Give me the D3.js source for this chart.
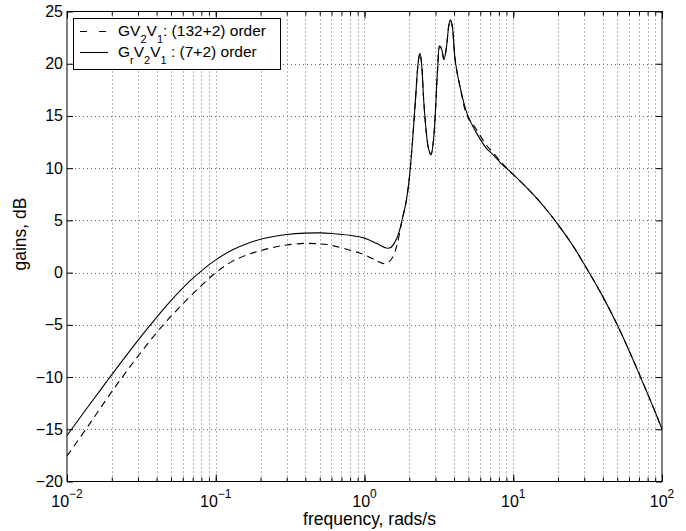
<!DOCTYPE html>
<html>
<head>
<meta charset="utf-8">
<script src="https://cdnjs.cloudflare.com/ajax/libs/d3/7.8.5/d3.min.js"></script>
<style>
  body { margin: 0; background: #fff; }
  text { font-family: "Liberation Sans", Arial, Helvetica, sans-serif; fill: #000; }
</style>
</head>
<body>
<div id="chart"></div>
<script>
// reduced model (solid) - frequency in rad/s, gain in dB
var freqSolid = [0.01, 0.014, 0.02, 0.028, 0.036, 0.05, 0.07, 0.1, 0.13, 0.17, 0.2, 0.25, 0.3, 0.4, 0.5, 0.6, 0.8, 1.0, 1.2, 1.4, 1.5, 1.6, 1.7, 1.8, 1.9, 2.0, 2.1, 2.2, 2.3, 2.36, 2.42, 2.5, 2.6, 2.7, 2.8, 2.9, 3.0, 3.1, 3.2, 3.3, 3.42, 3.55, 3.7, 3.78, 3.9, 4.0, 4.1, 4.4, 4.9, 5.6, 6.6, 7.3, 8.5, 9.5, 12, 14.4, 17, 20, 25, 30, 40, 50, 60, 70, 80, 90, 100];
var gainSolid = [-15.6, -12.75, -9.77, -7.04, -5.08, -2.68, -0.56, 1.22, 2.19, 2.89, 3.19, 3.48, 3.65, 3.78, 3.8, 3.75, 3.57, 3.3, 2.8, 2.35, 2.4, 2.9, 3.8, 5.2, 6.7, 9.0, 12.5, 16.5, 20.2, 21.0, 20.0, 16.5, 13.5, 11.8, 11.3, 12.5, 15.5, 19.5, 21.7, 21.4, 20.4, 21.5, 23.8, 24.2, 23.5, 21.5, 20.0, 17.7, 15.2, 13.5, 11.9, 11.3, 10.3, 9.7, 8.3, 7.1, 5.9, 4.6, 2.65, 0.8, -2.3, -5.0, -7.45, -9.65, -11.6, -13.35, -15.0];

// full model (dashed)
var freqDashed = [0.01, 0.014, 0.02, 0.03, 0.0444, 0.06, 0.08, 0.1, 0.13, 0.17, 0.2, 0.25, 0.3, 0.4, 0.5, 0.6, 0.8, 1.0, 1.2, 1.35, 1.45, 1.55, 1.65, 1.75, 1.8, 1.9, 2.0, 2.1, 2.2, 2.3, 2.36, 2.42, 2.5, 2.6, 2.7, 2.8, 2.9, 3.0, 3.1, 3.2, 3.3, 3.42, 3.55, 3.7, 3.78, 3.9, 4.0, 4.1, 4.4, 4.9, 5.6, 6.6, 7.3, 8.5, 9.5, 12, 14.4, 17, 20, 25, 30, 40, 50, 60, 70, 80, 90, 100];
var gainDashed = [-17.55, -14.6, -11.4, -8.0, -5.0, -3.0, -1.25, 0.0, 1.1, 1.8, 2.1, 2.45, 2.65, 2.8, 2.75, 2.6, 2.15, 1.7, 1.15, 0.85, 1.0, 1.5, 2.6, 4.3, 5.2, 6.7, 9.0, 12.5, 16.5, 20.2, 21.0, 20.0, 16.5, 13.5, 11.8, 11.3, 12.5, 15.5, 19.5, 21.7, 21.4, 20.4, 21.5, 23.8, 24.2, 23.5, 21.5, 20.0, 17.7, 15.0, 13.8, 12.2, 11.5, 10.4, 9.7, 8.3, 7.1, 5.9, 4.6, 2.65, 0.8, -2.3, -5.0, -7.45, -9.65, -11.6, -13.35, -15.0];

var yTicks = [-20, -15, -10, -5, 0, 5, 10, 15, 20, 25];
var decades = [-2, -1, 0, 1, 2];
var legendNames = [
    [["GV", 0], ["2", 1], ["V", 0], ["1", 1], [": (132+2) order", 0]],
    [["G", 0], ["r", 1], ["V", 0], ["2", 1], ["V", 0], ["1", 1], [" : (7+2) order", 0]]
];

(function() {
    var width = 686, height = 531;
    var pLeft = 67, pRight = 662, pTop = 11.5, pBottom = 481.5;

    var svg = d3.select("#chart")
        .append("svg")
        .attr("width", width)
        .attr("height", height)

    var x = d3.scaleLog().domain([0.01, 100]).range([pLeft, pRight])
    var y = d3.scaleLinear().domain([-20, 25]).range([pBottom, pTop])

    // minor + major x positions
    var xGrid = []
    decades.slice(0, 4).forEach(function(p) {
        for (var k = 1; k < 10; k++) xGrid.push(k * Math.pow(10, p))
    })
    xGrid.push(100)

    // grid
    svg.append("g").selectAll("line")
        .data(xGrid.filter(function(d) { return d > 0.01 && d < 100 }))
        .enter().append("line")
        .attr("x1", function(d) { return Math.round(x(d)) + 0.5 })
        .attr("x2", function(d) { return Math.round(x(d)) + 0.5 })
        .attr("y1", pTop).attr("y2", pBottom)
        .attr("stroke", "#666").attr("stroke-width", 1)
        .attr("stroke-dasharray", "1,3")

    svg.append("g").selectAll("line")
        .data(yTicks.filter(function(d) { return d > -20 && d < 25 }))
        .enter().append("line")
        .attr("y1", function(d) { return Math.round(y(d)) + 0.5 })
        .attr("y2", function(d) { return Math.round(y(d)) + 0.5 })
        .attr("x1", pLeft).attr("x2", pRight)
        .attr("stroke", "#666").attr("stroke-width", 1)
        .attr("stroke-dasharray", "1,3")

    // axes (ticks inward)
    var xMajor = decades.map(function(p) { return Math.pow(10, p) })
    var bottomAxis = d3.axisBottom(x).tickValues(xGrid).tickSize(-4).tickFormat("")
    var bottomMajor = d3.axisBottom(x).tickValues(xMajor).tickSize(-7).tickFormat("")
    var topAxis = d3.axisTop(x).tickValues(xGrid).tickSize(-4).tickFormat("")
    var topMajor = d3.axisTop(x).tickValues(xMajor).tickSize(-7).tickFormat("")
    var leftAxis = d3.axisLeft(y).tickValues(yTicks).tickSize(-6).tickFormat("")
    var rightAxis = d3.axisRight(y).tickValues(yTicks).tickSize(-6).tickFormat("")

    svg.append("g").attr("transform", "translate(0," + pBottom + ")").call(bottomAxis)
    svg.append("g").attr("transform", "translate(0," + pBottom + ")").call(bottomMajor)
    svg.append("g").attr("transform", "translate(0," + pTop + ")").call(topAxis)
    svg.append("g").attr("transform", "translate(0," + pTop + ")").call(topMajor)
    svg.append("g").attr("transform", "translate(" + pLeft + ",0)").call(leftAxis)
    svg.append("g").attr("transform", "translate(" + pRight + ",0)").call(rightAxis)
    svg.selectAll(".domain").remove()
    svg.selectAll(".tick line").attr("stroke", "#000")

    svg.append("rect")
        .attr("x", pLeft).attr("y", pTop)
        .attr("width", pRight - pLeft).attr("height", pBottom - pTop)
        .attr("fill", "none").attr("stroke", "#000").attr("stroke-width", 1)

    // tick labels
    svg.append("g").selectAll("text")
        .data(yTicks)
        .enter().append("text")
        .attr("x", pLeft - 4)
        .attr("y", function(d) { return y(d) + 5.5 })
        .attr("text-anchor", "end")
        .style("font-size", "16px")
        .text(function(d) { return d < 0 ? "\u2212" + Math.abs(d) : d })

    var xl = svg.append("g").selectAll("text")
        .data(decades)
        .enter().append("text")
        .attr("x", function(d) { return x(Math.pow(10, d)) })
        .attr("y", 507)
        .attr("text-anchor", "middle")
        .style("font-size", "16px")
    xl.append("tspan").text("10")
    xl.append("tspan")
        .attr("dy", -9)
        .style("font-size", "12px")
        .text(function(d) { return d < 0 ? "\u2212" + Math.abs(d) : d })

    // axis titles
    svg.append("text")
        .attr("x", (pLeft + pRight) / 2 + 5)
        .attr("y", 525)
        .attr("text-anchor", "middle")
        .style("font-size", "17.5px")
        .text("frequency, rads/s")

    svg.append("text")
        .attr("transform", "translate(26," + 234 + ") rotate(-90)")
        .attr("text-anchor", "middle")
        .style("font-size", "17.5px")
        .text("gains, dB")

    // curves
    var line = d3.line()
        .x(function(d) { return x(d[0]) })
        .y(function(d) { return y(d[1]) })
        .curve(d3.curveCatmullRom.alpha(0.5))

    var dashedData = freqDashed.map(function(f, i) { return [f, gainDashed[i]] })
    var solidData = freqSolid.map(function(f, i) { return [f, gainSolid[i]] })

    svg.append("path")
        .datum(dashedData)
        .attr("d", line)
        .attr("fill", "none")
        .attr("stroke", "#000")
        .attr("stroke-width", 1.1)
        .attr("stroke-dasharray", "7,5")

    svg.append("path")
        .datum(solidData)
        .attr("d", line)
        .attr("fill", "none")
        .attr("stroke", "#000")
        .attr("stroke-width", 1.1)

    // legend
    var legend = svg.append("g")
    legend.append("rect")
        .attr("x", 73.5).attr("y", 18.5)
        .attr("width", 207).attr("height", 51)
        .attr("fill", "#fff").attr("stroke", "#000")

    var rows = [31.5, 52.5]
    legend.append("line")
        .attr("x1", 80).attr("x2", 108).attr("y1", rows[0]).attr("y2", rows[0])
        .attr("stroke", "#000").attr("stroke-width", 1.1).attr("stroke-dasharray", "7,12")
    legend.append("line")
        .attr("x1", 80).attr("x2", 108).attr("y1", rows[1]).attr("y2", rows[1])
        .attr("stroke", "#000").attr("stroke-width", 1.1)

    legendNames.forEach(function(parts, i) {
        var t = legend.append("text")
            .attr("x", 118)
            .attr("y", rows[i] + 4.5)
            .style("font-size", "15.5px")
        var prev = 0
        parts.forEach(function(p) {
            var shift = p[1] ? 6.5 : 0
            t.append("tspan")
                .attr("dy", shift - prev)
                .style("font-size", p[1] ? "11px" : "15.5px")
                .text(p[0])
            prev = shift
        })
    })
})();
</script>
</body>
</html>
